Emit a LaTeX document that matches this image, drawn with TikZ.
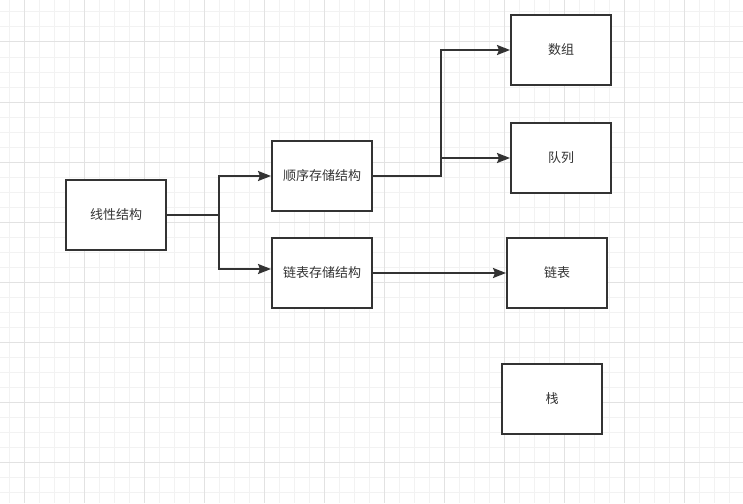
\documentclass[tikz,border=0pt]{standalone}
\usepackage{fontspec}
\usepackage{tikz}
\usetikzlibrary{arrows.meta}
\newfontfamily\cjk{Noto Sans CJK SC}
\definecolor{linecol}{HTML}{333333}
\definecolor{gridminor}{HTML}{F2F2F2}
\definecolor{gridmajor}{HTML}{E2E2E2}

\begin{document}
\begin{tikzpicture}[x=1pt,y=-1pt,
		box/.style={draw=linecol,line width=2pt,fill=white,minimum width=100pt,minimum height=70pt,inner sep=0pt,font=\cjk\fontsize{13}{15}\selectfont,text=linecol},
		link/.style={draw=linecol,line width=2pt,-{Stealth[length=13pt,width=10pt,inset=2pt]}}]
		\useasboundingbox (0,0) rectangle (743,503);
		
		% background grid
		\foreach \x in {9,24,...,743}
			\draw[gridminor,line width=1pt] (\x,0) -- (\x,503);
		\foreach \y in {12,27,...,503}
			\draw[gridminor,line width=1pt] (0,\y) -- (743,\y);
		\foreach \x in {24,84,...,743}
			\draw[gridmajor,line width=1pt] (\x,0) -- (\x,503);
		\foreach \y in {42,102,...,503}
			\draw[gridmajor,line width=1pt] (0,\y) -- (743,\y);
		
		\node[box] (linear) at (116,214.5) {线性结构};
		
		\node[box] (seq) at (322,176) {顺序存储结构};
		\node[box] (list) at (322,273) {链表存储结构};
		
		\node[box] (array) at (561,50) {数组};
		\node[box] (queue) at (561,158) {队列};
		\node[box] (chain) at (557,273) {链表};
		\node[box] (stack) at (552,398.5) {栈};
		
		\coordinate (fork1) at (219,214.5);
		\draw[link] (linear.east) -- (fork1) |- (seq.west);
		\draw[link] (fork1) |- ([yshift=4pt]list.west);
		
		\coordinate (fork2) at (441,176);
		\draw[link] (seq.east) -- (fork2) |- (array.west);
		\draw[link] (fork2) |- (queue.west);
		
		\draw[link] (list.east) -- (chain.west);
	\end{tikzpicture}
\end{document}
